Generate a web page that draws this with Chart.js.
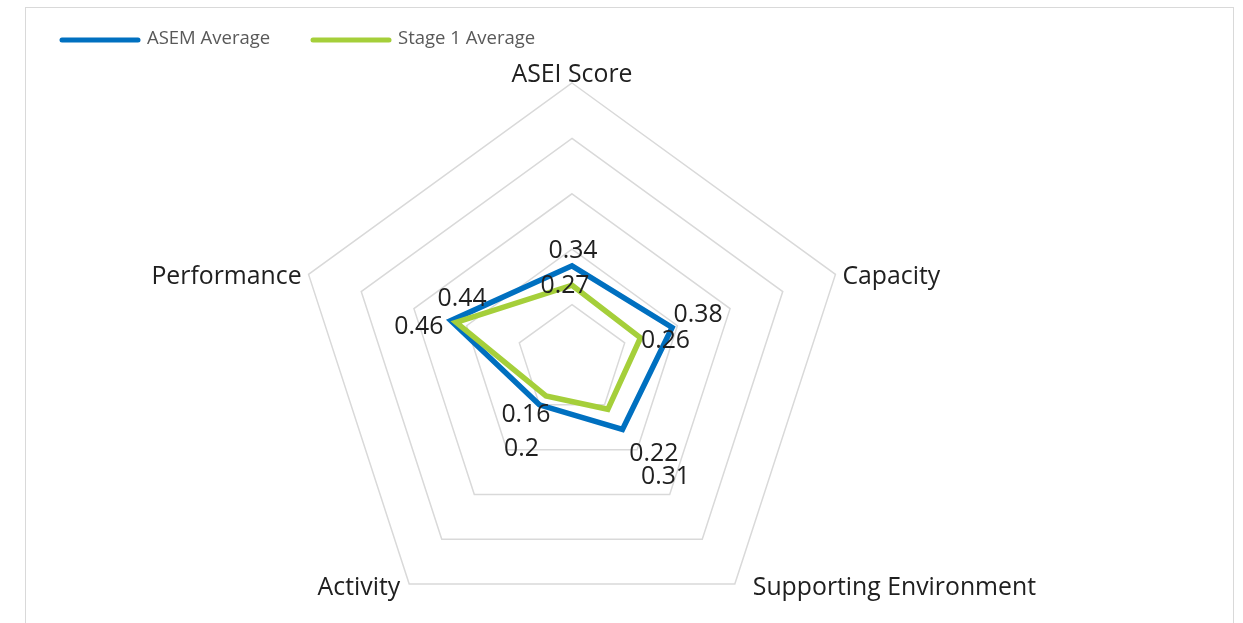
<!DOCTYPE html>
<html>
<head>
<meta charset="utf-8">
<script src="https://cdn.jsdelivr.net/npm/chart.js@4.4.1/dist/chart.umd.min.js"></script>
<style>
  body { margin: 0; background: #fff; overflow: hidden; }
  #frame { position: absolute; left: 25px; top: 7px; width: 1209px; height: 700px; border: 1.5px solid #d9d9d9; box-sizing: border-box; }
  #wrap { position: absolute; left: 0; top: 0; width: 1243px; height: 660px; }
</style>
</head>
<body>
<div id="frame"></div>
<div id="wrap"><canvas id="radar"></canvas></div>
<script>
var axisLabels = ['ASEI Score', 'Capacity', 'Supporting Environment', 'Activity', 'Performance'];
var asemAverage = [0.34, 0.38, 0.31, 0.2, 0.46];
var stage1Average = [0.27, 0.26, 0.22, 0.16, 0.44];
var seriesNames = ['ASEM Average', 'Stage 1 Average'];
var seriesColors = ['#0070c0', '#a5cf3a'];

// nudge for each value label, relative to its point (px)
var labelOffsets = [
  [[1, -15], [26, -13], [43, 47], [-18, 44], [-32, 6]],
  [[-7, 1], [25, 3], [46, 45], [-20, 19], [6, -23]]
];

var textFont = '24.8px "Open Sans"';
var textColor = '#202020';

// values printed next to every point
var valueLabels = {
  id: 'valueLabels',
  afterDatasetsDraw: function(chart) {
    var ctx = chart.ctx;
    ctx.save();
    ctx.font = textFont;
    ctx.fillStyle = textColor;
    ctx.textAlign = 'center';
    ctx.textBaseline = 'middle';
    chart.data.datasets.forEach(function(ds, d) {
      chart.getDatasetMeta(d).data.forEach(function(pt, i) {
        var off = labelOffsets[d][i];
        ctx.fillText(String(ds.data[i]), pt.x + off[0], pt.y + off[1]);
      });
    });
    ctx.restore();
  }
};

// axis names round the outer pentagon
var axisNames = {
  id: 'axisNames',
  afterDraw: function(chart) {
    var ctx = chart.ctx;
    var scale = chart.scales.r;
    ctx.save();
    ctx.font = textFont;
    ctx.fillStyle = textColor;
    axisLabels.forEach(function(text, i) {
      var p = scale.getPointPosition(i, scale.drawingArea);
      var dx = p.x - scale.xCenter;
      var below = p.y > scale.yCenter;
      if (Math.abs(dx) < 1) {
        ctx.textAlign = 'center';
        ctx.textBaseline = 'alphabetic';
        ctx.fillText(text, p.x, p.y - 1);
      } else {
        var gap = below ? (dx > 0 ? 18 : 9) : 7;
        ctx.textAlign = dx > 0 ? 'left' : 'right';
        ctx.textBaseline = 'middle';
        ctx.fillText(text, p.x + (dx > 0 ? gap : -gap), p.y + (below ? 4 : 3));
      }
    });
    ctx.restore();
  }
};

// line-sample legend in the top left corner
var lineLegend = {
  id: 'lineLegend',
  afterDraw: function(chart) {
    var ctx = chart.ctx;
    var starts = [62, 313];
    ctx.save();
    ctx.font = '18.5px "Open Sans"';
    ctx.textBaseline = 'middle';
    chart.data.datasets.forEach(function(ds, d) {
      var x = starts[d];
      ctx.strokeStyle = ds.borderColor;
      ctx.lineWidth = 5;
      ctx.lineCap = 'round';
      ctx.beginPath();
      ctx.moveTo(x, 40);
      ctx.lineTo(x + 76, 40);
      ctx.stroke();
      ctx.fillStyle = '#595959';
      ctx.fillText(ds.label, x + 85, 39);
    });
    ctx.restore();
  }
};

new Chart(document.getElementById('radar'), {
  type: 'radar',
  data: {
    labels: axisLabels,
    datasets: [{
      label: seriesNames[0],
      data: asemAverage,
      borderColor: seriesColors[0],
      order: 1
    }, {
      label: seriesNames[1],
      data: stage1Average,
      borderColor: seriesColors[1],
      order: 0
    }]
  },
  options: {
    responsive: true,
    maintainAspectRatio: false,
    animation: false,
    layout: { padding: { left: 0, right: 99, top: 83, bottom: 22 } },
    elements: {
      line: { borderWidth: 5.5, fill: false, tension: 0, borderJoinStyle: 'miter' },
      point: { radius: 0, hoverRadius: 0 }
    },
    plugins: {
      legend: { display: false },
      tooltip: { enabled: false }
    },
    scales: {
      r: {
        min: 0,
        max: 1,
        ticks: { display: false, stepSize: 0.2 },
        angleLines: { display: false },
        grid: { color: '#d9d9d9', lineWidth: 1.5 },
        pointLabels: { display: false }
      }
    }
  },
  plugins: [valueLabels, axisNames, lineLegend]
});
</script>
</body>
</html>
